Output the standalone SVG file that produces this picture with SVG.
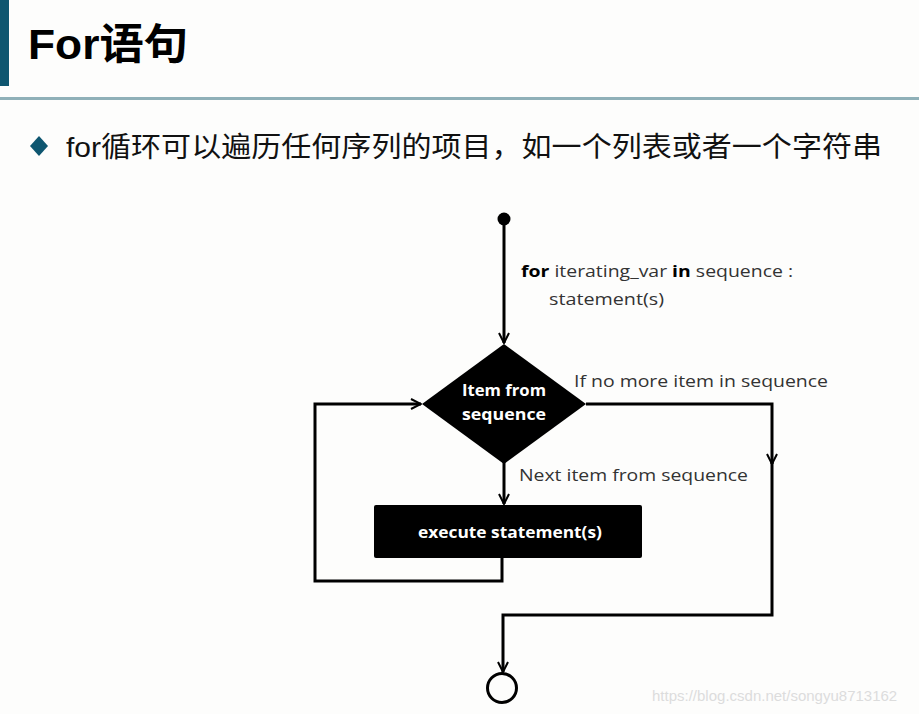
<svg xmlns="http://www.w3.org/2000/svg" width="919" height="714" viewBox="0 0 919 714">
<style>
.conn{fill:none;stroke:#000;stroke-width:3;stroke-linejoin:miter}
.lbl{font-family:"Open Sans","Liberation Sans",sans-serif;font-size:16px;fill:#333}
.wt{font-family:"Open Sans","Liberation Sans",sans-serif;font-size:16.5px;font-weight:bold;fill:#fff;text-anchor:middle}
</style>
<defs>
<marker id="ah" viewBox="0 0 12 12" refX="11" refY="6" markerWidth="12" markerHeight="12" markerUnits="userSpaceOnUse" orient="auto">
<path d="M1,1 L11,6 L1,11" fill="none" stroke="#000" stroke-width="2"/>
</marker>
</defs>
<rect width="919" height="714" fill="#fdfdfc"/>
<g id="header">
<rect x="0" y="0" width="9" height="86" fill="#0e5670"/>
<text x="28" y="59" font-family="'Liberation Sans','Noto Sans CJK SC',sans-serif" font-weight="bold" font-size="42" fill="#000" textLength="160" lengthAdjust="spacingAndGlyphs">For语句</text>
<rect x="0" y="97" width="919" height="3" fill="#8fb0b8"/>
<path d="M39,136 L48,146 L39,156 L30,146 Z" fill="#0e5670"/>
<text x="66" y="157" font-family="'Liberation Sans','Noto Sans CJK SC',sans-serif" font-size="28" fill="#111" textLength="816" lengthAdjust="spacingAndGlyphs">for循环可以遍历任何序列的项目，如一个列表或者一个字符串</text>
</g>
<g id="connectors">
<path class="conn" d="M504,219 L504,343" marker-end="url(#ah)"/>
<path class="conn" d="M504,462 L504,504" marker-end="url(#ah)"/>
<path class="conn" d="M502,558 L502,581 L315,581 L315,404 L421,404" marker-end="url(#ah)"/>
<path class="conn" d="M586,404 L772,404 L772,464" marker-end="url(#ah)"/>
<path class="conn" d="M772,460 L772,615 L503,615 L503,672" marker-end="url(#ah)"/>
</g>
<g id="start"><circle cx="504" cy="219" r="6.5" fill="#000"/></g>
<g id="code-label">
<text class="lbl" x="521" y="277" textLength="272" lengthAdjust="spacingAndGlyphs"><tspan font-weight="bold" fill="#000">for</tspan> iterating_var <tspan font-weight="bold" fill="#000">in</tspan> sequence :</text>
<text class="lbl" x="549" y="305" textLength="115" lengthAdjust="spacingAndGlyphs">statement(s)</text>
</g>
<g id="decision">
<path d="M504,344 L586,404 L504,464 L422,404 Z" fill="#000"/>
<text class="wt" x="504" y="396" textLength="84" lengthAdjust="spacingAndGlyphs">Item from</text>
<text class="wt" x="504" y="420" textLength="84" lengthAdjust="spacingAndGlyphs">sequence</text>
</g>
<g id="labels">
<text class="lbl" x="574" y="387" textLength="254" lengthAdjust="spacingAndGlyphs">If no more item in sequence</text>
<text class="lbl" x="519" y="481" textLength="229" lengthAdjust="spacingAndGlyphs">Next item from  sequence</text>
</g>
<g id="execute">
<rect x="374" y="505" width="268" height="53" rx="2" fill="#000"/>
<text class="wt" x="510" y="538" textLength="184" lengthAdjust="spacingAndGlyphs">execute statement(s)</text>
</g>
<g id="end"><circle cx="502" cy="688" r="14.5" fill="none" stroke="#000" stroke-width="3"/></g>
<text x="652" y="701" font-family="'Liberation Sans',sans-serif" font-size="15" fill="#dcdcdc">https://blog.csdn.net/songyu8713162</text>
</svg>
